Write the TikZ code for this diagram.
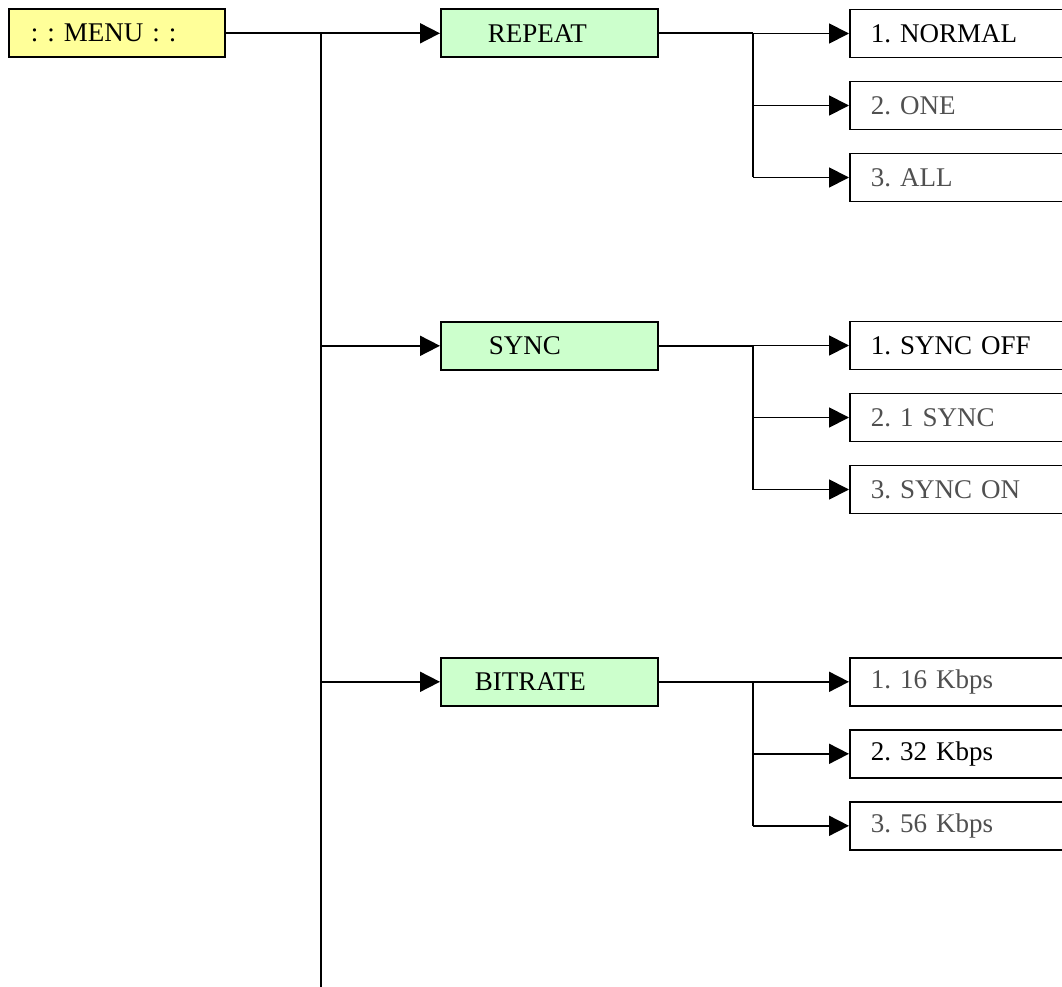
\documentclass[tikz,border=0pt]{standalone}
\usepackage{fontspec}
\setmainfont{Liberation Serif}
\usetikzlibrary{arrows.meta}
\definecolor{menuyellow}{HTML}{FFFF99}
\definecolor{subgreen}{HTML}{CCFFCC}
\definecolor{dimtext}{HTML}{505050}
\frenchspacing
\begin{document}
\begin{tikzpicture}[x=1pt,y=-1pt,
  box/.style={draw, line width=1.6pt, minimum height=48pt, inner ysep=0pt,
    anchor=north west, align=left, font=\fontsize{27}{30}\selectfont},
  menubox/.style={box, fill=menuyellow, inner xsep=22pt, text width=172pt},
  mainbox/.style={box, fill=subgreen},
  subbox/.style={box, fill=white, inner xsep=21pt, text width=177pt, text=dimtext},
  selbox/.style={subbox, text=black},
  conn/.style={line width=1.8pt},
  arr/.style={conn, -{Triangle[length=20pt,width=20pt]}}]
\useasboundingbox (0,0) rectangle (1062,987);
\fill[white] (0,0) rectangle (1062,987);

% main column
\node[menubox] (menu) at (8,8.5) {: : MENU : :};
\node[mainbox, inner xsep=47pt, text width=123pt] (repeat) at (440,8.5) {REPEAT};
\node[mainbox, inner xsep=48pt, text width=121pt] (sync) at (440,321) {SYNC};
\node[mainbox, inner xsep=34pt, text width=149pt] (bitrate) at (440,657) {BITRATE};

\coordinate (j0) at (321,33);
\coordinate (jend) at (321,990);

% repeat subs
\node[selbox] (r1) at (849,8.7) {1. NORMAL};
\node[subbox] (r2) at (849,80.7) {2. ONE};
\node[subbox] (r3) at (849,152.7) {3. ALL};
% sync subs
\node[selbox] (s1) at (849,320.7) {1. SYNC OFF};
\node[subbox] (s2) at (849,392.7) {2. 1 SYNC};
\node[subbox] (s3) at (849,464.7) {3. SYNC ON};
% bitrate subs
\node[subbox] (b1) at (849,657) {1. 16 Kbps};
\node[selbox] (b2) at (849,729) {2. 32 Kbps};
\node[subbox] (b3) at (849,801) {3. 56 Kbps};

\coordinate (rj) at (753,0);

% connectors from menu
\draw[conn] (menu.east) -- (j0 |- menu.east);
\draw[arr] (j0 |- menu.east) -- (repeat.west);
\draw[conn] (j0) -- (jend);
\draw[arr] (j0 |- sync.west) -- (sync.west);
\draw[arr] (j0 |- bitrate.west) -- (bitrate.west);

% repeat branch
\draw[conn] (repeat.east) -- (rj |- repeat.east);
\draw[conn] (rj |- r1.west) -- (rj |- r3.west);
\draw[arr] (rj |- r1.west) -- (r1.west);
\draw[arr] (rj |- r2.west) -- (r2.west);
\draw[arr] (rj |- r3.west) -- (r3.west);

% sync branch
\draw[conn] (sync.east) -- (rj |- sync.east);
\draw[conn] (rj |- s1.west) -- (rj |- s3.west);
\draw[arr] (rj |- s1.west) -- (s1.west);
\draw[arr] (rj |- s2.west) -- (s2.west);
\draw[arr] (rj |- s3.west) -- (s3.west);

% bitrate branch
\draw[conn] (bitrate.east) -- (rj |- bitrate.east);
\draw[conn] (rj |- b1.west) -- (rj |- b3.west);
\draw[arr] (rj |- b1.west) -- (b1.west);
\draw[arr] (rj |- b2.west) -- (b2.west);
\draw[arr] (rj |- b3.west) -- (b3.west);
\end{tikzpicture}
\end{document}
